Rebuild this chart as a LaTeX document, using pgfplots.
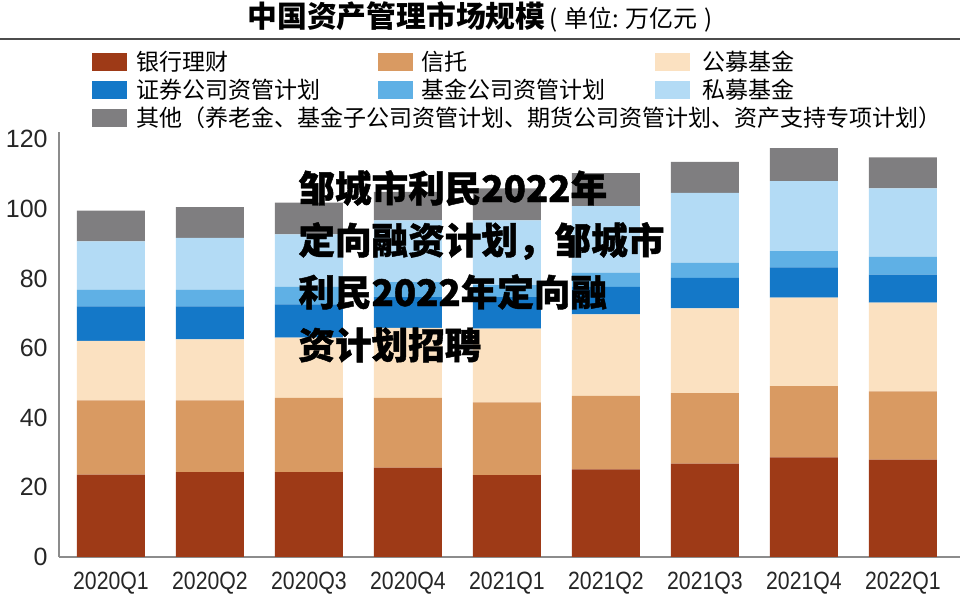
\documentclass[border=0pt]{standalone}
\usepackage{pgfplots}
\pgfplotsset{compat=1.18}
\usepackage{pgfplotstable}
\usepackage{fontspec}
\setmainfont{Noto Sans CJK SC}
\newfontfamily\numfont{Liberation Sans}
\newfontfamily\xnumfont[FakeStretch=0.85]{Liberation Sans}

\definecolor{cbank}{RGB}{158,58,23}
\definecolor{ctrust}{RGB}{217,154,98}
\definecolor{cpublic}{RGB}{251,225,193}
\definecolor{csec}{RGB}{20,120,200}
\definecolor{cfundco}{RGB}{95,176,229}
\definecolor{cprivate}{RGB}{179,219,245}
\definecolor{cother}{RGB}{127,126,128}
\definecolor{caxis}{RGB}{140,140,140}

\pgfplotstableread{
i bank trust public sec fundco private other
0 23.7 21.3 17.1 9.9 4.8 13.9 8.8
1 24.4 20.6 17.5 9.5 4.8 14.9 8.8
2 24.4 21.3 17.3 9.6 5.0 15.1 9.1
3 25.7 20.0 20.1 8.9 4.3 17.7 8.2
4 23.5 20.9 21.2 9.1 3.4 18.6 9.2
5 25.2 21.1 23.4 7.9 4.1 19.1 9.5
6 26.8 20.3 24.3 8.8 4.3 20.1 8.9
7 28.6 20.5 25.4 8.7 4.7 20.1 9.5
8 28.0 19.6 25.5 8.0 5.1 19.7 8.9
}\datatable

\begin{document}
\begin{tikzpicture}
\path[use as bounding box] (0,0) rectangle (480pt,298.5pt);

% title
\node at (240pt,290pt) {{\fontsize{14.9pt}{16pt}\selectfont\bfseries 中国资产管理市场规模}{\fontsize{12pt}{13pt}\selectfont\,(\;单位:\;万亿元\;)}};
\draw[line width=1pt, black!70] (0,279pt) -- (480pt,279pt);

% legend
\def\sqh{4.5pt}
\foreach \cx/\tx/\ry/\col/\lab in {
  46/68/267.5/cbank/银行理财,
  189/210.5/267.5/ctrust/信托,
  327.5/351/267.5/cpublic/公募基金,
  46/68/253.5/csec/证券公司资管计划,
  189/210.5/253.5/cfundco/基金公司资管计划,
  327.5/351/253.5/cprivate/私募基金}{
  \fill[\col] (\cx pt,\ry pt-\sqh) rectangle (\cx pt+17.5pt,\ry pt+\sqh);
  \node[anchor=west, inner sep=0pt, font=\fontsize{11.5pt}{13pt}\selectfont] at (\tx pt,\ry pt) {\lab};
}
\fill[cother] (46pt,239.5pt-\sqh) rectangle (63.5pt,239.5pt+\sqh);
\node[anchor=west, inner sep=0pt, font=\fontsize{11.5pt}{13pt}\selectfont] at (68pt,239.5pt) {其他（养老金、基金子公司资管计划、期货公司资管计划、资产支持专项计划）};

\begin{axis}[
  at={(29.5pt,20pt)}, anchor=south west,
  scale only axis,
  width=450.5pt, height=212.3pt,
  xmin=-0.525, xmax=8.576,
  ymin=0, ymax=122,
  ybar stacked,
  bar width=0.687,
  axis x line=bottom, axis y line=left,
  axis line style={-, caxis, line width=1pt},
  major tick length=0pt,
  tick style={draw=none},
  xtick=data,
  xticklabels={2020Q1,2020Q2,2020Q3,2020Q4,2021Q1,2021Q2,2021Q3,2021Q4,2022Q1},
  ytick={0,20,40,60,80,100,120},
  /pgf/number format/assume math mode=true,
  xticklabel style={anchor=base, inner sep=0pt, yshift=-16.5pt, font=\xnumfont\fontsize{12.5pt}{14pt}\selectfont, text=black!85},
  yticklabel style={anchor=east, inner sep=0pt, xshift=-5.5pt, font=\numfont\fontsize{12.5pt}{14pt}\selectfont, text=black!85},
  clip=false,
]
\addplot[draw=none, fill=cbank] table[x=i, y=bank] {\datatable};
\addplot[draw=none, fill=ctrust] table[x=i, y=trust] {\datatable};
\addplot[draw=none, fill=cpublic] table[x=i, y=public] {\datatable};
\addplot[draw=none, fill=csec] table[x=i, y=sec] {\datatable};
\addplot[draw=none, fill=cfundco] table[x=i, y=fundco] {\datatable};
\addplot[draw=none, fill=cprivate] table[x=i, y=private] {\datatable};
\addplot[draw=none, fill=cother] table[x=i, y=other] {\datatable};
\end{axis}

% overlay text
\begin{scope}[every node/.style={anchor=west, inner sep=0pt, font=\fontsize{18.3pt}{20pt}\selectfont\bfseries\addfontfeatures{FakeBold=1.2}}]
\node at (149pt,204.5pt) {邹城市利民2022年};
\node at (149pt,178pt) {定向融资计划，邹城市};
\node at (149pt,152.5pt) {利民2022年定向融};
\node at (149pt,126pt) {资计划招聘};
\end{scope}
\end{tikzpicture}
\end{document}
